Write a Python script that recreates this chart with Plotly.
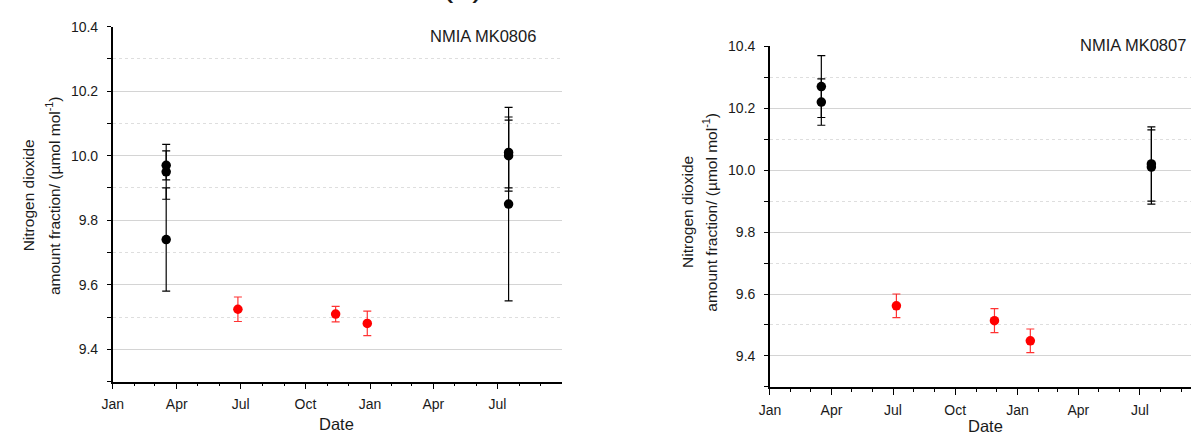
import plotly.graph_objects as go

# ---------------- data ----------------
# Panel (left): NMIA MK0806
mk0806_black_dates = ["2008-03-17", "2008-03-17", "2008-03-17", "2009-07-17", "2009-07-17", "2009-07-17"]
mk0806_black_values = [9.97, 9.95, 9.74, 10.01, 10.00, 9.85]
mk0806_black_errors = [0.045, 0.085, 0.16, 0.11, 0.11, 0.30]
mk0806_red_dates = ["2008-06-27", "2008-11-13", "2008-12-28"]
mk0806_red_values = [9.524, 9.509, 9.480]
mk0806_red_errors = [0.038, 0.024, 0.038]

# Panel (right): NMIA MK0807
mk0807_black_dates = ["2008-03-17", "2008-03-17", "2009-07-18", "2009-07-18"]
mk0807_black_values = [10.27, 10.22, 10.02, 10.01]
mk0807_black_errors = [0.10, 0.075, 0.12, 0.12]
mk0807_red_dates = ["2008-07-06", "2008-11-28", "2009-01-20"]
mk0807_red_values = [9.562, 9.514, 9.449]
mk0807_red_errors = [0.038, 0.039, 0.038]

panel_titles = ["NMIA MK0806", "NMIA MK0807"]
x_title = "Date"
y_title_line1 = "Nitrogen dioxide"
y_title_line2 = "amount fraction/ (\u00b5mol mol<sup>-1</sup>)"

# ---------------- figure ----------------
W, H = 1191, 436
FONT = "Liberation Sans, Arial, sans-serif"
TXT = "#1a1a1a"
BLACK_ERR = "#000000"
RED = "#ff0000"
RED_ERR = "rgba(255,0,0,0.8)"

fig = go.Figure()

def add_series(dates, vals, errs, color, ecolor, xa, ya):
    fig.add_trace(go.Scatter(
        x=dates, y=vals, mode="markers", xaxis=xa, yaxis=ya,
        marker=dict(color=color, size=9.5, line=dict(width=0)),
        error_y=dict(type="data", array=errs, visible=True, color=ecolor,
                     thickness=1.2, width=4),
        showlegend=False, cliponaxis=False,
    ))

add_series(mk0806_black_dates, mk0806_black_values, mk0806_black_errors, "#000000", BLACK_ERR, "x", "y")
add_series(mk0806_red_dates, mk0806_red_values, mk0806_red_errors, RED, RED_ERR, "x", "y")
add_series(mk0807_black_dates, mk0807_black_values, mk0807_black_errors, "#000000", BLACK_ERR, "x2", "y2")
add_series(mk0807_red_dates, mk0807_red_values, mk0807_red_errors, RED, RED_ERR, "x2", "y2")

def px_x(p):
    return p / W

def px_y(p):
    return 1 - p / H

def xaxis_cfg(domain, rng, anchor):
    return dict(
        domain=domain, range=rng, anchor=anchor, type="date",
        tick0="2008-01-01", dtick="M3", tickformat="%b",
        ticks="outside", ticklen=6, tickwidth=1.2, tickcolor="#000",
        showline=True, linecolor="#000", linewidth=1.6,
        showgrid=False, zeroline=False,
        tickfont=dict(family=FONT, size=14, color=TXT),
        ticklabelstandoff=3,
        minor=dict(dtick="M1", tick0="2008-01-01", ticks="outside", ticklen=3,
                   tickwidth=1.1, tickcolor="#000", showgrid=False),
    )

def yaxis_cfg(domain, anchor):
    return dict(
        domain=domain, range=[9.3, 10.4], anchor=anchor,
        tick0=9.4, dtick=0.2, tickformat=".1f",
        ticks="outside", ticklen=4, tickwidth=1.2, tickcolor="#000",
        showline=True, linecolor="#000", linewidth=1.6,
        showgrid=True, gridcolor="#d4d4d4", gridwidth=1,
        zeroline=False,
        tickfont=dict(family=FONT, size=14, color=TXT),
        ticklabelstandoff=6,
        minor=dict(dtick=0.1, tick0=9.3, ticks="outside", ticklen=4, tickwidth=1.1,
                   tickcolor="#000", showgrid=True, gridcolor="#dedede",
                   griddash="dot", gridwidth=1),
    )

# left panel geometry (pixels)
L_x0, L_x1, L_top, L_bot = 102.7, 556.0, 19.0, 380.5
# right panel geometry (pixels) - axis runs past the right edge, so range is cut there
R_x0, R_x1, R_top, R_bot = 766.0, 1191.0, 39.0, 386.0

fig.update_layout(
    width=W, height=H, margin=dict(l=0, r=0, t=0, b=0),
    paper_bgcolor="white", plot_bgcolor="white",
    font=dict(family=FONT, color=TXT),
    xaxis=xaxis_cfg([px_x(L_x0), px_x(L_x1)], ["2008-01-01", "2009-09-30 18:00"], "y"),
    yaxis=yaxis_cfg([px_y(L_bot), px_y(L_top)], "x"),
    xaxis2=xaxis_cfg([px_x(R_x0), px_x(R_x1)], ["2008-01-01", "2009-09-14 14:00"], "y2"),
    yaxis2=yaxis_cfg([px_y(R_bot), px_y(R_top)], "x2"),
)

ann = []
# panel labels
ann.append(dict(text=panel_titles[0], x=px_x(476), y=px_y(28.5), xref="paper", yref="paper",
                showarrow=False, font=dict(family=FONT, size=16.5, color=TXT),
                xanchor="center", yanchor="middle"))
ann.append(dict(text=panel_titles[1], x=px_x(1132), y=px_y(38), xref="paper", yref="paper",
                showarrow=False, font=dict(family=FONT, size=16.5, color=TXT),
                xanchor="center", yanchor="middle"))
# x titles
ann.append(dict(text=x_title, x=px_x(329), y=px_y(424), xref="paper", yref="paper",
                showarrow=False, font=dict(family=FONT, size=16.5, color=TXT),
                xanchor="center", yanchor="middle"))
ann.append(dict(text=x_title, x=px_x(984), y=px_y(425.5), xref="paper", yref="paper",
                showarrow=False, font=dict(family=FONT, size=16.5, color=TXT),
                xanchor="center", yanchor="middle"))
# y titles (two lines each)
for cx1, cx2, cy in [(18, 43, 191), (682, 706, 208)]:
    ann.append(dict(text=y_title_line1, x=px_x(cx1), y=px_y(cy), xref="paper", yref="paper",
                    showarrow=False, textangle=-90, font=dict(family=FONT, size=15.5, color=TXT),
                    xanchor="center", yanchor="middle"))
    ann.append(dict(text=y_title_line2, x=px_x(cx2), y=px_y(cy), xref="paper", yref="paper",
                    showarrow=False, textangle=-90, font=dict(family=FONT, size=15.5, color=TXT),
                    xanchor="center", yanchor="middle"))
# partially visible panel label at the very top (cut by the picture edge, as in the reference)
ann.append(dict(text="(a)", x=px_x(456), y=px_y(-3), xref="paper", yref="paper",
                showarrow=False, font=dict(family=FONT, size=34, color=TXT),
                xanchor="center", yanchor="bottom"))

fig.update_layout(annotations=ann)

fig.write_html("out.html")
